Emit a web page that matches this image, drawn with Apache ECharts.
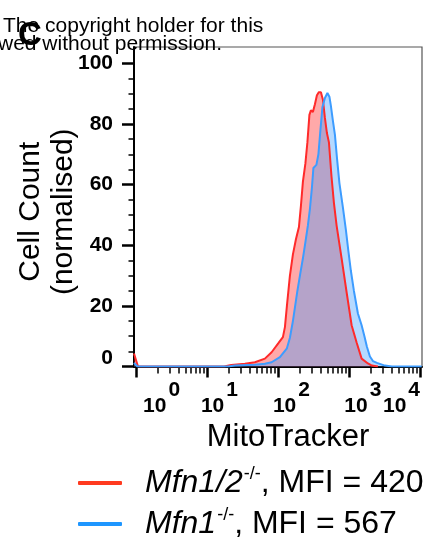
<!DOCTYPE html>
<html>
<head>
<meta charset="utf-8">
<script src="https://cdn.jsdelivr.net/npm/echarts@6/dist/echarts.min.js"></script>
<style>
  html, body { margin: 0; padding: 0; background: #fff; }
  #chart { width: 430px; height: 544px; }
</style>
</head>
<body>
<div id="chart"></div>
<script>
  // MitoTracker intensity (x, log) and normalised cell count (y)
  var mfn12X = [0.94, 1.07, 17.5, 22, 34.3, 47.4, 65.6, 81.5, 101, 117.6, 125.5, 133.9, 147.6, 162.7, 179.4, 197.7, 210.9, 225, 243.9, 260.3, 277.7, 291.5, 311.2, 332.1, 354.3, 378, 403.4, 430.4, 459.2, 490, 522.8, 567, 615, 671, 789, 928, 1092, 1284, 1510, 1852, 2108, 2560];
  var mfn12Count = [4.3, 0, 0, 0.5, 0.9, 1.4, 2.6, 4.7, 7.6, 9.7, 13, 20, 30, 37, 42, 46, 53, 61, 67, 74, 83, 84.5, 84, 86.5, 89.5, 90.5, 90.5, 88, 82, 77, 74, 63, 54, 46.5, 35.7, 24.5, 13.6, 7.9, 2.6, 1, 0.3, 0];

  var mfn1X = [0.94, 1.05, 20, 24.8, 47.4, 65.6, 81.5, 106.7, 133.9, 147.6, 162.7, 188.2, 204.2, 225, 243.9, 264.7, 282.4, 301.3, 316.2, 348.5, 371.8, 396.8, 423.4, 459.2, 498, 531.3, 557.5, 595.3, 635.1, 677.6, 735, 822.7, 907.5, 984, 1067, 1175, 1339, 1510, 1653, 1793, 1977, 2179, 2479, 3213, 4036, 10600];
  var mfn1Count = [1.2, 0, 0, 0.3, 0.56, 0.9, 1.4, 3.1, 6, 9.5, 15, 25, 30, 35.7, 41, 46.6, 52, 59, 65.5, 66.5, 70, 78, 85.5, 88.6, 90.2, 89, 86, 81, 76.5, 69, 60.5, 52.5, 45, 38, 31.5, 25, 17.5, 13.6, 10, 6.5, 3.3, 1.8, 1.2, 0.3, 0, 0];

  var seriesNames = ['Mfn1/2', 'Mfn1'];
  var seriesMFI = [420, 567];

  // axis ticks and labels
  var xMajor = [1, 10, 100, 1000, 10000];
  var xLabelAt = [2.3, 15, 155, 1570, 5500];   // the figure's labels sit off their ticks
  var xLabelExp = ['0', '1', '2', '3', '4'];
  var yMajor = [0, 20, 40, 60, 80, 100];
  var yLabelAt = [2.7, 20, 40, 60, 80, 100];
  var yLabels = ['0', '20', '40', '60', '80', '100'];
  var yMinor = [5, 10, 15, 25, 30, 35, 45, 50, 55, 65, 70, 75, 85, 90, 95];

  var xMinor = [];
  for (var d = 1; d <= 1000; d *= 10) {
    for (var k = 2; k <= 9; k++) xMinor.push(k * d);
  }

  var font = "'Liberation Sans', Arial, Helvetica, sans-serif";

  function pairs(xs, ys) {
    return xs.map(function (x, i) { return [x, ys[i]]; });
  }
  function nearest(list, v) {
    var best = 0;
    for (var i = 1; i < list.length; i++) {
      if (Math.abs(list[i] - v) < Math.abs(list[best] - v)) best = i;
    }
    return best;
  }

  var myChart = echarts.init(document.getElementById('chart'));
  var option = {
    animation: false,
    textStyle: { fontFamily: font },
    graphic: [
      { type: 'text', x: 3, y: 26, style: { text: 'The copyright holder for this', font: '21px ' + font, fill: '#000', textVerticalAlign: 'middle' } },
      { type: 'text', x: -2, y: 44, style: { text: 'wed without permission.', font: '21px ' + font, fill: '#000', textVerticalAlign: 'middle' } },
      { type: 'text', x: 18, y: 36, style: { text: 'C', font: 'bold 33px ' + font, fill: '#000', textVerticalAlign: 'middle' } }
    ],
    grid: {
      left: 134, top: 47, right: 8, bottom: 177.5,
      show: true, borderColor: '#555', borderWidth: 1.2,
      outerBoundsMode: 'none'
    },
    legend: {
      orient: 'vertical',
      left: 78, top: 465, height: 120,
      padding: 0,
      itemWidth: 44, itemHeight: 4, itemGap: 5,
      icon: 'roundRect',
      data: [
        { name: seriesNames[0], itemStyle: { color: '#ff3a1f' } },
        { name: seriesNames[1], itemStyle: { color: '#1e96ff' } }
      ],
      formatter: function (name) {
        var i = seriesNames.indexOf(name);
        return '{i|' + name + '}{s|-/-}{n|, MFI = ' + seriesMFI[i] + '}';
      },
      textStyle: {
        rich: {
          i: { fontSize: 32, fontStyle: 'italic', lineHeight: 36, color: '#000', padding: [0, 0, 0, 18] },
          s: { fontSize: 18, lineHeight: 18, color: '#000', padding: [0, 0, 18, 1] },
          n: { fontSize: 32, lineHeight: 36, color: '#000' }
        }
      }
    },
    xAxis: [
      {
        type: 'log', logBase: 10, min: 0.94, max: 10700,
        position: 'bottom',
        name: 'MitoTracker', nameLocation: 'middle', nameGap: 55, nameMoveOverlap: false,
        nameTextStyle: { fontSize: 31, color: '#000', padding: [0, 0, 0, 20] },
        axisLine: { lineStyle: { color: '#000', width: 2 } },
        axisTick: { customValues: xMajor, length: 11, lineStyle: { color: '#000', width: 2.5 } },
        axisLabel: {
          customValues: xLabelAt, margin: 21,
          formatter: function (v) {
            return '{b|10}{s|' + xLabelExp[nearest(xLabelAt, v)] + '}';
          },
          rich: {
            b: { fontSize: 21, fontWeight: 'bold', color: '#000', lineHeight: 22, padding: [16, 0, 0, 0] },
            s: { fontSize: 21, fontWeight: 'bold', color: '#000', lineHeight: 22, padding: [0, 0, 16, 2] }
          }
        },
        splitLine: { show: false }
      },
      {
        type: 'log', logBase: 10, min: 0.94, max: 10700,
        position: 'bottom',
        axisLine: { show: false },
        axisTick: { customValues: xMinor, length: 7, lineStyle: { color: '#000', width: 1.5 } },
        axisLabel: { show: false },
        splitLine: { show: false }
      }
    ],
    yAxis: [
      {
        type: 'value', min: 0, max: 105.4,
        position: 'left',
        name: 'Cell Count\n(normalised)', nameLocation: 'middle', nameRotate: 90,
        nameGap: 54, nameMoveOverlap: false,
        nameTextStyle: { fontSize: 30, lineHeight: 33, color: '#000', padding: [0, 10, 0, 0] },
        axisLine: { show: true, lineStyle: { color: '#000', width: 2 } },
        axisTick: { show: true, customValues: yMajor, length: 12, lineStyle: { color: '#000', width: 2.5 } },
        axisLabel: {
          customValues: yLabelAt, margin: 21,
          fontSize: 21, fontWeight: 'bold', color: '#000',
          formatter: function (v) { return yLabels[nearest(yLabelAt, v)]; }
        },
        splitLine: { show: false }
      },
      {
        type: 'value', min: 0, max: 105.4,
        position: 'left',
        axisLine: { show: false },
        axisTick: { show: true, customValues: yMinor, length: 5.5, lineStyle: { color: '#000', width: 1.5 } },
        axisLabel: { show: false },
        splitLine: { show: false }
      }
    ],
    series: [
      {
        name: seriesNames[0],
        type: 'line',
        showSymbol: false,
        color: '#ff2a2a',
        lineStyle: { color: '#ff2a2a', width: 2 },
        areaStyle: { color: 'rgba(255,40,40,0.4)', opacity: 1 },
        data: pairs(mfn12X, mfn12Count)
      },
      {
        name: seriesNames[1],
        type: 'line',
        showSymbol: false,
        color: '#3d9cff',
        lineStyle: { color: '#3d9cff', width: 2 },
        areaStyle: { color: 'rgba(61,156,255,0.38)', opacity: 1 },
        data: pairs(mfn1X, mfn1Count)
      }
    ]
  };
  myChart.setOption(option);
  window.addEventListener('resize', function () {
    myChart.resize();
  });
</script>
</body>
</html>
